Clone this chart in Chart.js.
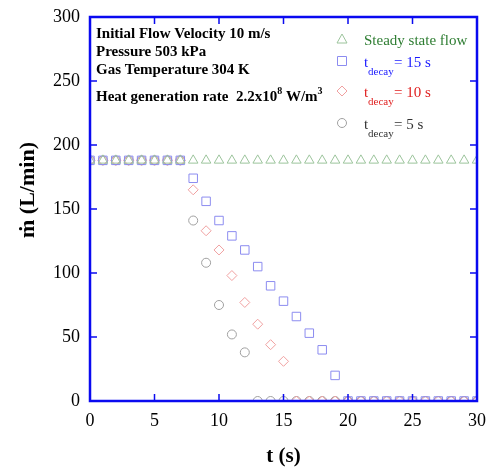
<!DOCTYPE html>
<html lang="en">
<head>
    <meta charset="UTF-8" />
    <title>Mass flow rate vs time</title>
    <script src="https://cdn.jsdelivr.net/npm/chart.js"></script>
    <style>
        * { margin: 0; padding: 0; box-sizing: border-box; }
        body { background: #ffffff; }
        .chart-container { width: 487px; height: 473px; position: relative; }
    </style>
</head>
<body>
    <div class="chart-container">
        <canvas id="flowChart"></canvas>
    </div>

    <script>
        // time axis (s)
        const times = [0, 1, 2, 3, 4, 5, 6, 7, 8, 9, 10, 11, 12, 13, 14, 15, 16, 17, 18, 19, 20, 21, 22, 23, 24, 25, 26, 27, 28, 29, 30];
        // flow rate (L/min)
        const steadyFlow = [188, 188, 188, 188, 188, 188, 188, 188, 188, 188, 188, 188, 188, 188, 188, 188, 188, 188, 188, 188, 188, 188, 188, 188, 188, 188, 188, 188, 188, 188, 188];
        const decay15 = [188, 188, 188, 188, 188, 188, 188, 188, 174, 156, 141, 129, 118, 105, 90, 78, 66, 53, 40, 20, 0, 0, 0, 0, 0, 0, 0, 0, 0, 0, 0];
        const decay10 = [188, 188, 188, 188, 188, 188, 188, 188, 165, 133, 118, 98, 77, 60, 44, 31, 0, 0, 0, 0, 0, 0, 0, 0, 0, 0, 0, 0, 0, 0, 0];
        const decay5 = [188, 188, 188, 188, 188, 188, 188, 188, 141, 108, 75, 52, 38, 0, 0, 0, 0, 0, 0, 0, 0, 0, 0, 0, 0, 0, 0, 0, 0, 0, 0];
        const xTicks = [0, 5, 10, 15, 20, 25, 30];
        const yTicks = [0, 50, 100, 150, 200, 250, 300];

        const infoLines = ["Initial Flow Velocity 10 m/s", "Pressure 503 kPa", "Gas Temperature 304 K"];

        const toPoints = (ys) => times.map((t, i) => ({ x: t, y: ys[i] }));

        const axisBlue = "#0a0af0";

        // frame with inward ticks on all four sides
        const framePlugin = {
            id: "framePlugin",
            afterDraw(chart) {
                const { ctx, chartArea: a, scales } = chart;
                ctx.save();
                ctx.strokeStyle = axisBlue;
                ctx.lineWidth = 2.5;
                ctx.strokeRect(a.left, a.top, a.right - a.left, a.bottom - a.top);
                ctx.lineWidth = 1.5;
                ctx.beginPath();
                xTicks.forEach(v => {
                    const px = scales.x.getPixelForValue(v);
                    ctx.moveTo(px, a.bottom); ctx.lineTo(px, a.bottom - 7);
                    ctx.moveTo(px, a.top); ctx.lineTo(px, a.top + 7);
                });
                yTicks.forEach(v => {
                    const py = scales.y.getPixelForValue(v);
                    ctx.moveTo(a.left, py); ctx.lineTo(a.left + 7, py);
                    ctx.moveTo(a.right, py); ctx.lineTo(a.right - 7, py);
                });
                ctx.stroke();

                // y axis title, drawn by hand so it sits where the original does
                ctx.fillStyle = "#000";
                ctx.font = "bold 22px 'Liberation Serif'";
                ctx.textAlign = "center";
                ctx.textBaseline = "middle";
                ctx.translate(28, 190);
                ctx.rotate(-Math.PI / 2);
                ctx.fillText("ṁ (L/min)", 0, 0);
                ctx.restore();
            }
        };

        function drawMarker(ctx, kind, x, y, color) {
            ctx.save();
            ctx.strokeStyle = color;
            ctx.lineWidth = 1;
            ctx.beginPath();
            if (kind === "triangle") {
                ctx.moveTo(x, y - 5); ctx.lineTo(x + 5, y + 4); ctx.lineTo(x - 5, y + 4); ctx.closePath();
            } else if (kind === "rect") {
                ctx.rect(x - 4.5, y - 4.5, 9, 9);
            } else if (kind === "rectRot") {
                ctx.moveTo(x, y - 5); ctx.lineTo(x + 5, y); ctx.lineTo(x, y + 5); ctx.lineTo(x - 5, y); ctx.closePath();
            } else {
                ctx.arc(x, y, 4.5, 0, Math.PI * 2);
            }
            ctx.stroke();
            ctx.restore();
        }

        // annotation block and legend
        const textPlugin = {
            id: "textPlugin",
            afterDraw(chart) {
                const { ctx } = chart;
                ctx.save();
                ctx.fillStyle = "#000";
                ctx.textBaseline = "alphabetic";
                ctx.font = "bold 15px 'Liberation Serif'";
                infoLines.forEach((s, i) => ctx.fillText(s, 96, 38 + i * 18));
                let x = 96;
                const y = 101;
                const part1 = "Heat generation rate  2.2x10";
                ctx.fillText(part1, x, y);
                x += ctx.measureText(part1).width;
                ctx.font = "bold 10px 'Liberation Serif'";
                ctx.fillText("8", x, y - 7);
                x += ctx.measureText("8").width;
                ctx.font = "bold 15px 'Liberation Serif'";
                ctx.fillText(" W/m", x, y);
                x += ctx.measureText(" W/m").width;
                ctx.font = "bold 10px 'Liberation Serif'";
                ctx.fillText("3", x, y - 7);

                // legend
                const rows = [
                    { kind: "triangle", mk: "#9cc49c", color: "#2e7d32", y: 45, label: "Steady state flow" },
                    { kind: "rect", mk: "#8c8cf0", color: "#1a1aff", y: 67, sub: "15 s" },
                    { kind: "rectRot", mk: "#f0a0a0", color: "#e02020", y: 97, sub: "10 s" },
                    { kind: "circle", mk: "#a0a0a0", color: "#333333", y: 129, sub: "5 s" }
                ];
                rows.forEach(r => {
                    drawMarker(ctx, r.kind, 342, r.y - 6, r.mk);
                    ctx.fillStyle = r.color;
                    ctx.font = "15px 'Liberation Serif'";
                    if (r.label) {
                        ctx.fillText(r.label, 364, r.y);
                    } else {
                        ctx.fillText("t", 364, r.y);
                        ctx.font = "11px 'Liberation Serif'";
                        ctx.fillText("decay", 368, r.y + 8);
                        ctx.font = "15px 'Liberation Serif'";
                        ctx.fillText("= " + r.sub, 394, r.y);
                    }
                });
                ctx.restore();
            }
        };

        const ctx = document.getElementById("flowChart").getContext("2d");
        new Chart(ctx, {
            type: "scatter",
            data: {
                datasets: [
                    { label: "Steady state flow", data: toPoints(steadyFlow), pointStyle: "triangle", borderColor: "#9cc49c", pointRadius: 5.5 },
                    { label: "t_decay = 15 s", data: toPoints(decay15), pointStyle: "rect", borderColor: "#8c8cf0", pointRadius: 6 },
                    { label: "t_decay = 10 s", data: toPoints(decay10), pointStyle: "rectRot", borderColor: "#f0a0a0", pointRadius: 5 },
                    { label: "t_decay = 5 s", data: toPoints(decay5), pointStyle: "circle", borderColor: "#a0a0a0", pointRadius: 4.5 }
                ].map(d => ({ ...d, backgroundColor: "rgba(0,0,0,0)", borderWidth: 1 }))
            },
            options: {
                responsive: true,
                maintainAspectRatio: false,
                animation: false,
                layout: { padding: { top: 17, right: 9, left: 0, bottom: 0 } },
                plugins: { legend: { display: false }, tooltip: { enabled: false } },
                scales: {
                    x: {
                        type: "linear", min: 0, max: 30,
                        grid: { display: false },
                        border: { display: false },
                        afterBuildTicks: (s) => { s.ticks = xTicks.map(v => ({ value: v })); },
                        afterFit: (s) => { s.height = 72; },
                        ticks: { color: "#000", padding: 1, font: { family: "'Liberation Serif'", size: 18 } },
                        title: { display: true, text: "t (s)", color: "#000", padding: { top: 26 }, font: { family: "'Liberation Serif'", size: 21, weight: "bold" } }
                    },
                    y: {
                        type: "linear", min: 0, max: 300,
                        grid: { display: false },
                        border: { display: false },
                        afterBuildTicks: (s) => { s.ticks = yTicks.map(v => ({ value: v })); },
                        afterFit: (s) => { s.width = 90; },
                        ticks: { color: "#000", padding: 2, font: { family: "'Liberation Serif'", size: 18 } },
                        title: { display: false }
                    }
                }
            },
            plugins: [framePlugin, textPlugin]
        });
    </script>
</body>
</html>
